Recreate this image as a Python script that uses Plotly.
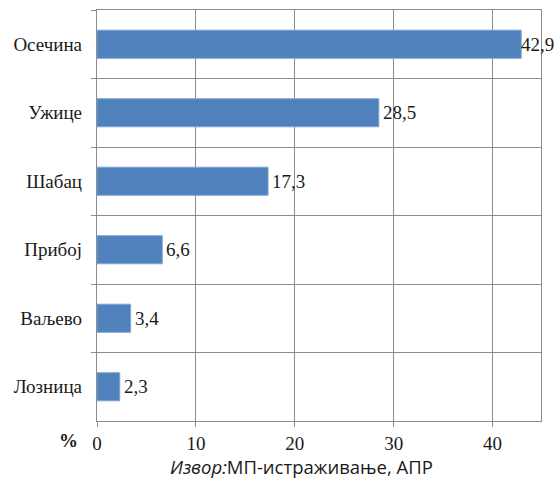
import plotly.graph_objects as go

categories = ["Осечина", "Ужице", "Шабац", "Прибој", "Ваљево", "Лозница"]
values = [42.9, 28.5, 17.3, 6.6, 3.4, 2.3]
x_ticks = [0, 10, 20, 30, 40]
labels = [f"{v}".replace(".", ",") for v in values]

serif = "Liberation Serif"
fs = 19

fig = go.Figure(go.Bar(
    x=values, y=categories, orientation="h",
    marker=dict(color="#4F81BD", line=dict(color="#7FA3D3", width=1)),
    width=0.41, hoverinfo="x+y",
))

value_labels = [
    dict(text=t, x=v, y=c, xref="x", yref="y", xanchor="left", yanchor="middle",
         xshift=-2 if v > 40 else 2, showarrow=False,
         font=dict(family=serif, size=fs, color="#1a1a1a"))
    for t, v, c in zip(labels, values, categories)
]

fig.update_layout(
    width=555, height=480,
    margin=dict(l=97, r=14, t=10, b=59),
    plot_bgcolor="white", paper_bgcolor="white",
    showlegend=False,
    xaxis=dict(
        range=[0, 44.9], tickvals=x_ticks, ticktext=[str(t) for t in x_ticks],
        showgrid=True, gridcolor="#8C8C8C", gridwidth=1.3,
        showline=True, linecolor="#8C8C8C", linewidth=1.3, mirror=True,
        ticks="outside", ticklen=5, tickcolor="#8C8C8C", tickwidth=1.3,
        tickfont=dict(family=serif, size=fs, color="#1a1a1a"),
        zeroline=False, fixedrange=True,
    ),
    yaxis=dict(
        categoryorder="array", categoryarray=categories, autorange="reversed",
        tickson="boundaries", ticks="outside", ticklen=5,
        tickcolor="#8C8C8C", tickwidth=1.3,
        showgrid=True, gridcolor="#8C8C8C", gridwidth=1.3,
        showline=True, linecolor="#8C8C8C", linewidth=1.3, mirror=True,
        tickfont=dict(family=serif, size=fs, color="#1a1a1a"),
        ticklabelstandoff=10,
    ),
    annotations=value_labels + [
        dict(text="<b>%</b>", xref="paper", yref="paper", x=-0.065, y=-0.048,
             xanchor="center", yanchor="middle", showarrow=False,
             font=dict(family=serif, size=fs, color="#1a1a1a")),
        dict(text="<i>Извор:</i>МП-истраживање, АПР", xref="paper", yref="paper",
             x=(301 - 97) / 444, y=-(480 - 421) / 411, xanchor="center", yanchor="bottom",
             showarrow=False, borderpad=0,
             font=dict(family="Open Sans", size=18.5, color="#1a1a1a")),
    ],
)

fig.write_html("out.html", post_script="document.body.style.margin='0';",
               config={"displayModeBar": False})
